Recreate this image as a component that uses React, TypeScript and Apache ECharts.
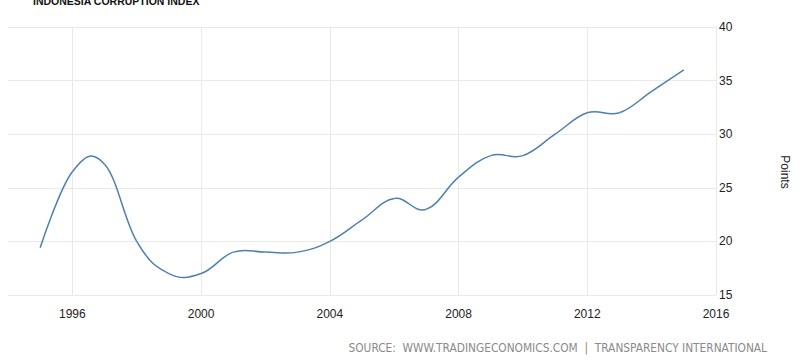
import React, { useEffect, useRef } from "react";
import * as echarts from "echarts";

const years: string[] = [
  "1994", "1995", "1996", "1997", "1998", "1999", "2000", "2001", "2002", "2003", "2004", "2005",
  "2006", "2007", "2008", "2009", "2010", "2011", "2012", "2013", "2014", "2015", "2016",
];
const pointYears: string[] = [
  "1995", "1996", "1997", "1998", "1999", "2000", "2001", "2002", "2003", "2004", "2005",
  "2006", "2007", "2008", "2009", "2010", "2011", "2012", "2013", "2014", "2015",
];
const points: number[] = [
  19.4, 26.5, 27.2, 20, 17, 17, 19, 19, 19, 20, 22,
  24, 23, 26, 28, 28, 30, 32, 32, 34, 36,
];
const yTicks = { min: 15, max: 40, interval: 5 };
const title = "INDONESIA CORRUPTION INDEX";
const source = "SOURCE:  WWW.TRADINGECONOMICS.COM  |  TRANSPARENCY INTERNATIONAL";
const yName = "Points";

export default function App() {
  const ref = useRef<HTMLDivElement>(null);
  useEffect(() => {
    if (!ref.current) return;
    const chart = echarts.init(ref.current, null, { renderer: "svg" });
    const font = "'Liberation Sans', Arial, sans-serif";
    const condFont = "'DejaVu Sans Condensed', 'Liberation Sans Narrow', 'Liberation Sans', sans-serif";
    const isLabelYear = (_i: number, v: string) => Number(v) % 4 === 0;
    const data = pointYears.map((y, i) => [years.indexOf(y), points[i]]);
    const smoothing = 1.5;
    const denom = smoothing + 1;

    const renderItem = (params: any, api: any) => {
      const k = params.dataIndex;
      const n = data.length;
      if (k >= n - 1) return null;
      const c = (j: number) => api.coord(data[j]);
      const conts = (j: number) => {
        const p = c(j);
        if (j <= 0 || j >= n - 1) return { lx: p[0], ly: p[1], rx: p[0], ry: p[1] };
        const a = c(j - 1);
        const b = c(j + 1);
        const lx = (smoothing * p[0] + a[0]) / denom;
        let ly = (smoothing * p[1] + a[1]) / denom;
        const rx = (smoothing * p[0] + b[0]) / denom;
        let ry = (smoothing * p[1] + b[1]) / denom;
        if (rx !== lx) {
          const corr = ((ry - ly) * (rx - p[0])) / (rx - lx) + p[1] - ry;
          ly += corr;
          ry += corr;
        }
        return { lx, ly, rx, ry };
      };
      const p0 = c(k);
      const p1 = c(k + 1);
      const c0 = conts(k);
      const c1 = conts(k + 1);
      return {
        type: "bezierCurve",
        shape: {
          x1: p0[0], y1: p0[1], x2: p1[0], y2: p1[1],
          cpx1: c0.rx, cpy1: c0.ry, cpx2: c1.lx, cpy2: c1.ly,
        },
        style: { stroke: "#4f7fb0", lineWidth: 1.5, fill: "none" },
      };
    };

    chart.setOption({
      animation: false,
      backgroundColor: "#ffffff",
      grid: { left: 8, right: 84, top: 27, bottom: 68, containLabel: false },
      xAxis: {
        type: "category",
        data: years,
        boundaryGap: false,
        axisLine: { show: false },
        axisTick: { show: false },
        axisLabel: {
          interval: isLabelYear,
          color: "#222",
          fontSize: 12,
          fontFamily: font,
          margin: 13,
        },
        splitLine: {
          show: true,
          interval: isLabelYear,
          lineStyle: { color: "#e9e9e9", width: 1 },
        },
      },
      yAxis: {
        type: "value",
        position: "right",
        min: yTicks.min,
        max: yTicks.max,
        interval: yTicks.interval,
        axisLine: { show: false },
        axisTick: { show: false },
        axisLabel: { color: "#222", fontSize: 12, fontFamily: font, margin: 3 },
        splitLine: { lineStyle: { color: "#e9e9e9", width: 1 } },
      },
      series: [
        {
          type: "custom",
          data: data,
          encode: { x: 0, y: 1 },
          renderItem: renderItem,
          silent: true,
        },
      ],
      graphic: [
        {
          type: "text",
          left: 33,
          top: -5,
          style: { text: title, fill: "#111", font: `bold 10.5px ${font}` },
        },
        {
          type: "text",
          x: 785,
          y: 172,
          rotation: -Math.PI / 2,
          style: {
            text: yName,
            fill: "#222",
            font: `12px ${font}`,
            align: "center",
            verticalAlign: "middle",
          },
        },
        {
          type: "text",
          x: 767,
          y: 348,
          style: {
            text: source,
            fill: "#8a8a8a",
            font: `11.8px ${condFont}`,
            align: "right",
            verticalAlign: "middle",
          },
        },
      ],
    });
    return () => chart.dispose();
  }, []);
  return <div ref={ref} style={{ width: 800, height: 363, position: "absolute", left: 0, top: 0 }} />;
}
